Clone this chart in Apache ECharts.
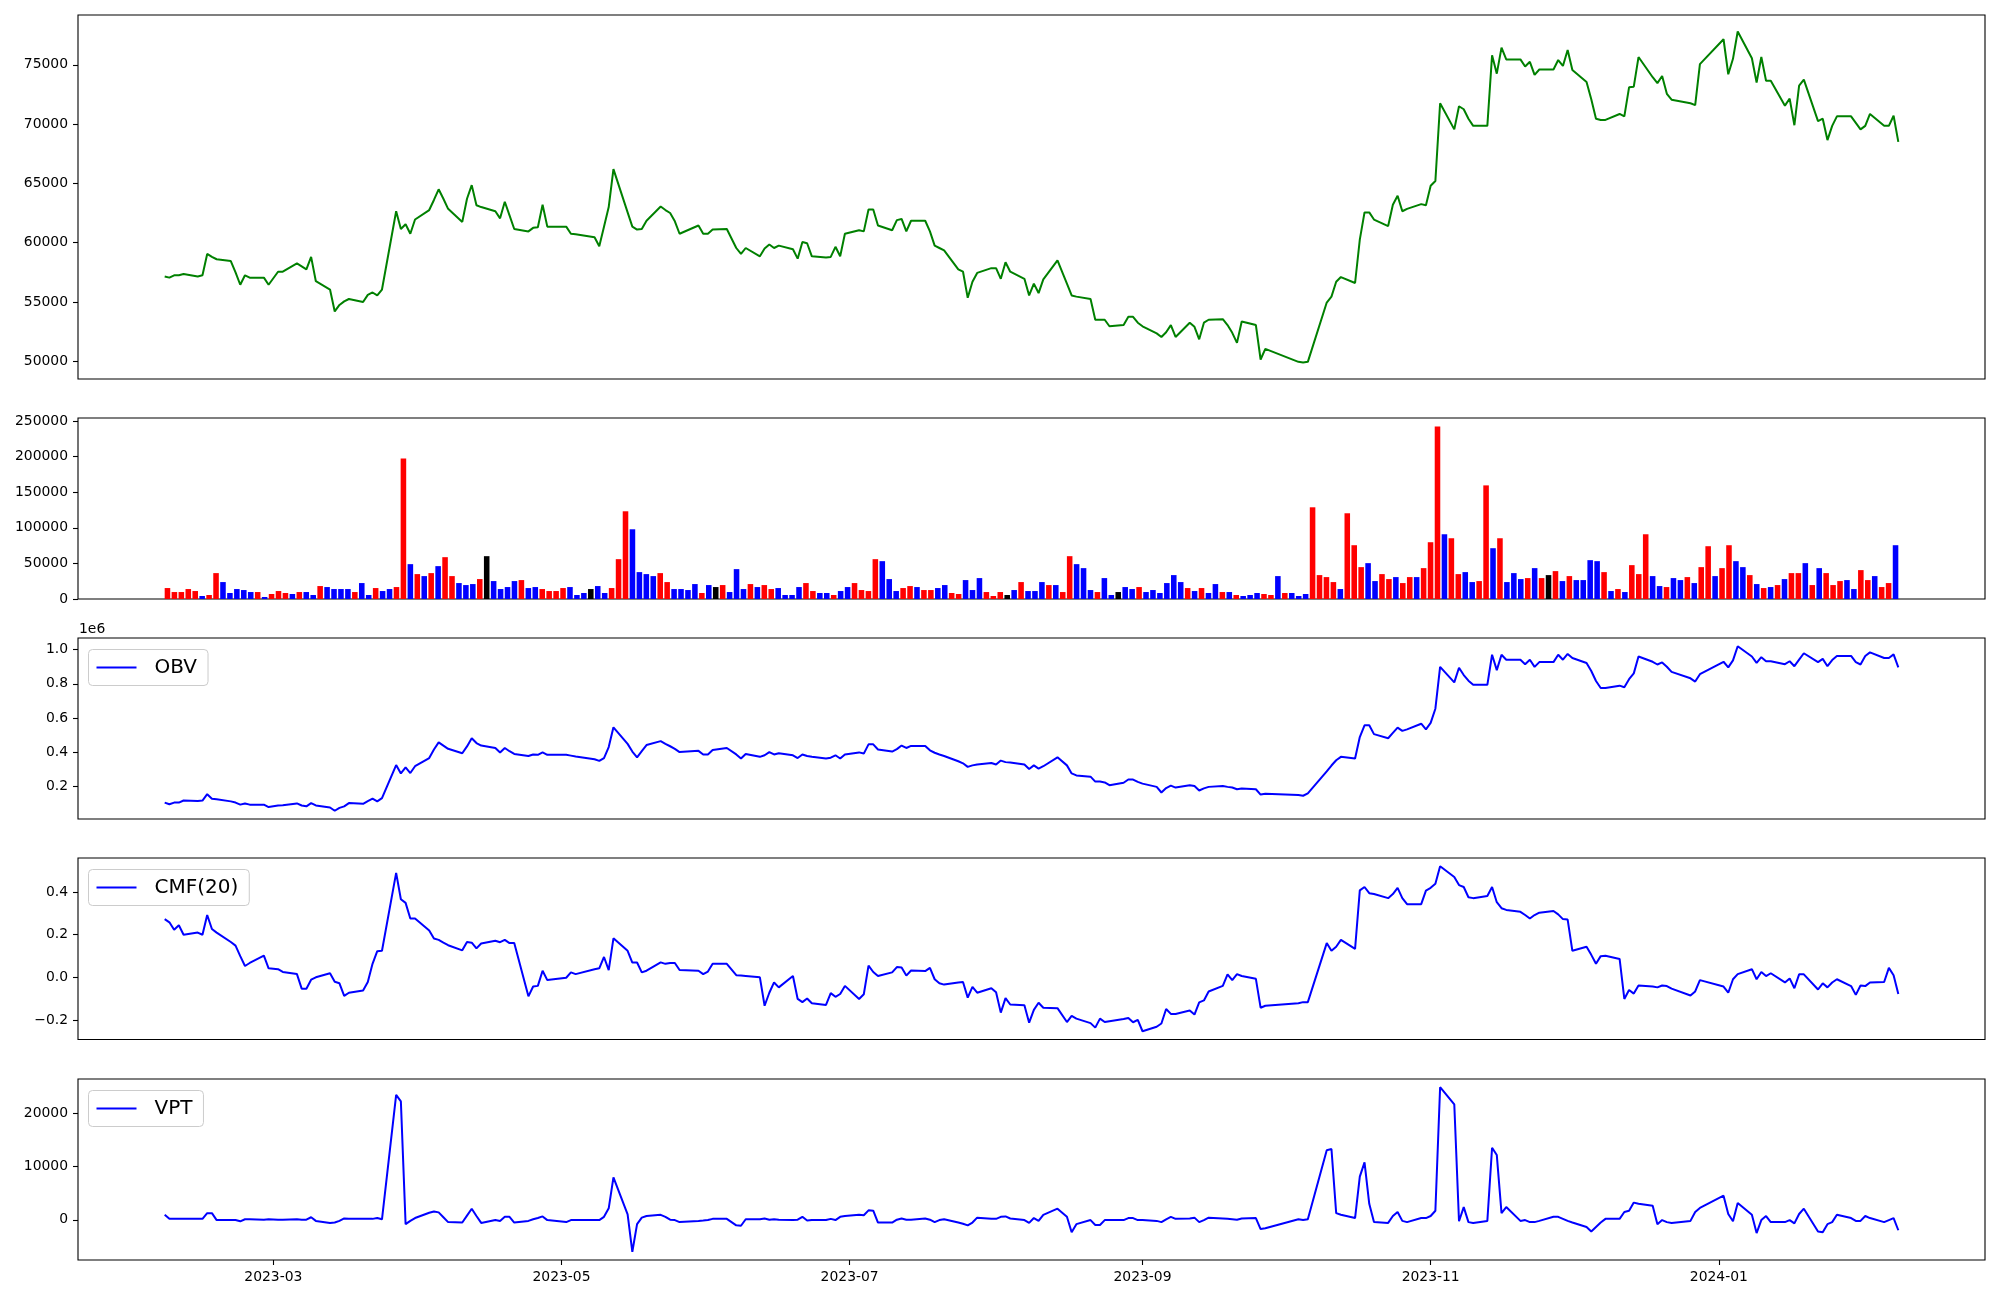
<!DOCTYPE html>
<html><head><meta charset="utf-8">
<script src="https://cdn.jsdelivr.net/npm/echarts@6.0.0/dist/echarts.min.js"></script>
<style>html,body{margin:0;padding:0;background:#fff}#chart{width:2000px;height:1300px}</style>
</head><body><div id="chart"></div>
<script>
const dates = [
'2023-02-06','2023-02-07','2023-02-08','2023-02-09','2023-02-10','2023-02-13','2023-02-14','2023-02-15','2023-02-16','2023-02-17','2023-02-20','2023-02-21','2023-02-22','2023-02-23','2023-02-24','2023-02-27','2023-02-28',
'2023-03-02','2023-03-03','2023-03-06','2023-03-07','2023-03-08','2023-03-09','2023-03-10','2023-03-13','2023-03-14','2023-03-15','2023-03-16','2023-03-17','2023-03-20','2023-03-21','2023-03-22','2023-03-23','2023-03-24','2023-03-27','2023-03-28','2023-03-29','2023-03-30','2023-03-31',
'2023-04-03','2023-04-04','2023-04-05','2023-04-06','2023-04-07','2023-04-10','2023-04-11','2023-04-12','2023-04-13','2023-04-14','2023-04-17','2023-04-18','2023-04-19','2023-04-20','2023-04-21','2023-04-24','2023-04-25','2023-04-26','2023-04-27','2023-04-28',
'2023-05-02','2023-05-03','2023-05-04','2023-05-08','2023-05-09','2023-05-10','2023-05-11','2023-05-12','2023-05-15','2023-05-16','2023-05-17','2023-05-18','2023-05-19','2023-05-22','2023-05-23','2023-05-24','2023-05-25','2023-05-26','2023-05-30','2023-05-31',
'2023-06-01','2023-06-02','2023-06-05','2023-06-07','2023-06-08','2023-06-09','2023-06-12','2023-06-13','2023-06-14','2023-06-15','2023-06-16','2023-06-19','2023-06-20','2023-06-21','2023-06-22','2023-06-23','2023-06-26','2023-06-27','2023-06-28','2023-06-29','2023-06-30',
'2023-07-03','2023-07-04','2023-07-05','2023-07-06','2023-07-07','2023-07-10','2023-07-11','2023-07-12','2023-07-13','2023-07-14','2023-07-17','2023-07-18','2023-07-19','2023-07-20','2023-07-21','2023-07-24','2023-07-25','2023-07-26','2023-07-27','2023-07-28','2023-07-31',
'2023-08-01','2023-08-02','2023-08-03','2023-08-04','2023-08-07','2023-08-08','2023-08-09','2023-08-10','2023-08-11','2023-08-14','2023-08-16','2023-08-17','2023-08-18','2023-08-21','2023-08-22','2023-08-23','2023-08-24','2023-08-25','2023-08-28','2023-08-29','2023-08-30','2023-08-31',
'2023-09-01','2023-09-04','2023-09-05','2023-09-06','2023-09-07','2023-09-08','2023-09-11','2023-09-12','2023-09-13','2023-09-14','2023-09-15','2023-09-18','2023-09-19','2023-09-20','2023-09-21','2023-09-22','2023-09-25','2023-09-26','2023-09-27',
'2023-10-04','2023-10-05','2023-10-06','2023-10-10','2023-10-11','2023-10-12','2023-10-13','2023-10-16','2023-10-17','2023-10-18','2023-10-19','2023-10-20','2023-10-23','2023-10-24','2023-10-25','2023-10-26','2023-10-27','2023-10-30','2023-10-31',
'2023-11-01','2023-11-02','2023-11-03','2023-11-06','2023-11-07','2023-11-08','2023-11-09','2023-11-10','2023-11-13','2023-11-14','2023-11-15','2023-11-16','2023-11-17','2023-11-20','2023-11-21','2023-11-22','2023-11-23','2023-11-24','2023-11-27','2023-11-28','2023-11-29','2023-11-30',
'2023-12-01','2023-12-04','2023-12-05','2023-12-06','2023-12-07','2023-12-08','2023-12-11','2023-12-12','2023-12-13','2023-12-14','2023-12-15','2023-12-18','2023-12-19','2023-12-20','2023-12-21','2023-12-22','2023-12-26','2023-12-27','2023-12-28',
'2024-01-02','2024-01-03','2024-01-04','2024-01-05','2024-01-08','2024-01-09','2024-01-10','2024-01-11','2024-01-12','2024-01-15','2024-01-16','2024-01-17','2024-01-18','2024-01-19','2024-01-22','2024-01-23','2024-01-24','2024-01-25','2024-01-26','2024-01-29','2024-01-30','2024-01-31',
'2024-02-01','2024-02-02','2024-02-05','2024-02-06','2024-02-07','2024-02-08'
];
const closePrice = [
57150,57050,57250,57250,57350,57150,57250,59050,58800,58600,58450,57500,56450,57250,57050,57050,56450,
57550,57550,58250,58000,57750,58800,56750,56050,54200,54750,55050,55250,55000,55600,55800,55550,56050,62650,61150,61550,60750,61950,
62750,63600,64500,63700,62850,61750,63700,64850,63150,63000,62650,62050,63450,62300,61150,60950,61250,61300,63200,61350,
61350,60750,60700,60450,59700,61350,63000,66200,62550,61350,61100,61150,61850,63050,62750,62500,61800,60750,61450,60750,
60750,61100,61150,59550,59050,59550,58850,59500,59850,59550,59750,59450,58650,60050,59950,58850,58750,58800,59650,58850,60750,
61050,60950,62800,62800,61450,61050,61900,62000,60950,61850,61850,60950,59750,59550,59350,57750,57550,55350,56700,57450,57850,
57850,56950,58350,57550,56950,55550,56550,55750,56900,58500,56550,55550,55450,55250,53500,53500,53500,52950,53050,53750,53750,53250,
52950,52350,52050,52450,53050,52050,53250,52900,51850,53250,53500,53550,53050,52400,51550,53350,53050,50150,51050,
49950,49900,49950,54950,55450,56700,57100,56600,60250,62550,62550,61950,61400,63200,63950,62650,62850,63250,63150,
64800,65200,71750,69550,71500,71250,70450,69850,69850,75800,74250,76450,75450,75450,74850,75250,74150,74600,74600,75400,74900,76250,
74550,73550,72100,70450,70350,70350,70850,70650,73100,73150,75650,73950,73450,74050,72550,72050,71750,71600,75050,
77150,74200,75500,77800,75550,73500,75650,73650,73650,71550,72150,69900,73250,73750,70250,70450,68650,69850,70650,70650,70100,69550,
69850,70850,69850,69850,70700,68500
];
const volume = [
15400,9800,9800,14000,11200,4200,5600,36400,23800,8400,
14000,12600,9800,9800,2800,7000,11200,8400,7000,9800,
9800,5600,18200,16800,14000,14000,14000,9800,22400,5600,
15400,11200,14000,16800,197500,49000,35000,32200,36400,46200,
58800,32200,22400,19600,21000,28000,60200,25200,14000,16800,
25200,26600,15400,16800,14000,11200,11200,15400,16800,5600,
8400,14000,18200,8400,15400,56000,123300,98000,37800,35000,
32200,36400,23800,14000,14000,12600,21000,8400,19600,16800,
19600,9800,42000,14000,21000,16800,19600,14000,15400,5600,
5600,16800,22400,11200,8400,8400,5600,11200,16800,22400,
12600,11200,56000,53200,28000,11200,15400,18200,16800,12600,
12600,15400,19600,8400,7000,26600,12600,29400,9800,4200,
9800,5600,12600,23800,11200,11200,23800,19600,19600,9800,
60200,49000,43400,12600,9800,29400,5600,9800,16800,14000,
16800,9800,12600,8400,22400,33600,23800,15400,11200,15400,
8400,21000,9800,9800,5600,4200,5600,8400,7000,5600,
32200,8400,8400,4200,7000,128900,33600,30800,23800,14000,
120500,75600,44800,50400,25200,35000,28000,30800,22400,30800,
30800,43400,79800,242300,91000,85400,35000,37800,23800,25200,
159700,71400,85400,23800,36400,28000,29400,43400,29400,33600,
39200,25200,32200,26600,26600,54600,53200,37800,11200,14000,
9800,47600,35000,91000,32200,18200,16800,29400,26600,30800,
22400,44800,74200,32200,43400,75600,53200,44800,33600,21000,
15400,16800,19600,28000,36400,36400,50400,19600,43400,36400,
19600,25200,26600,14000,40600,26600,32200,16800,22400,75600
];
// 1 = close up (red), -1 = close down (blue), 0 = unchanged (black)
const volumeDirection = [
1,1,1,1,1,-1,1,1,-1,-1, -1,-1,-1,1,-1,1,1,1,-1,1, -1,-1,1,-1,-1,-1,-1,1,-1,-1, 1,-1,-1,1,1,-1,1,-1,1,-1,
1,1,-1,-1,-1,1,0,-1,-1,-1, -1,1,-1,-1,1,1,1,1,-1,-1, -1,0,-1,-1,1,1,1,-1,-1,-1, -1,1,1,-1,-1,-1,-1,1,-1,0,
1,-1,-1,-1,1,-1,1,1,-1,-1, -1,-1,1,1,-1,-1,1,-1,-1,1, 1,1,1,-1,-1,-1,1,1,-1,1, 1,-1,-1,1,1,-1,-1,-1,1,1,
1,0,-1,1,-1,-1,-1,1,-1,1, 1,-1,-1,-1,1,-1,-1,0,-1,-1, 1,-1,-1,-1,-1,-1,-1,1,-1,1, -1,-1,1,-1,1,-1,-1,-1,1,1,
-1,1,-1,-1,-1,1,1,1,1,-1, 1,1,1,-1,-1,1,1,-1,1,1, -1,1,1,1,-1,1,1,-1,-1,1, 1,-1,1,-1,-1,-1,1,-1,1,0,
1,-1,1,-1,-1,-1,-1,1,-1,1, -1,1,1,1,-1,-1,1,-1,-1,1, -1,1,1,-1,1,1,-1,-1,1,-1, 1,-1,1,-1,1,1,-1,1,-1,1,
1,1,-1,-1,1,1,-1,1,1,-1
];
// OBV in units of 1e6
const obvE6 = [
.104,.094,.104,.104,.116,.113,.116,.153,.127,.123,.111,.104,.092,.099,.092,.092,.078,
.087,.089,.099,.087,.082,.101,.087,.075,.056,.073,.082,.101,.097,.113,.127,.111,.130,.324,.275,.310,.277,.317,
.365,.415,.457,.438,.419,.393,.433,.481,.453,.438,.424,.398,.424,.405,.389,.377,.386,.384,.398,.384,
.384,.379,.374,.358,.348,.365,.429,.545,.448,.403,.369,.405,.441,.464,.448,.434,.419,.400,.407,.386,
.386,.412,.424,.386,.362,.389,.372,.381,.400,.386,.393,.381,.365,.386,.377,.372,.362,.367,.381,.362,.386,
.398,.391,.445,.445,.415,.403,.417,.438,.424,.436,.436,.410,.396,.386,.377,.346,.334,.313,.322,.327,.336,
.327,.350,.341,.339,.327,.301,.322,.303,.317,.369,.322,.275,.263,.256,.227,.227,.222,.206,.220,.239,.239,.225,
.215,.196,.163,.189,.203,.192,.206,.201,.175,.187,.196,.201,.196,.192,.182,.187,.182,.151,.156,
.149,.144,.158,.287,.321,.352,.372,.362,.488,.557,.557,.505,.481,.512,.543,.524,.533,.566,.533,
.571,.654,.899,.808,.894,.851,.818,.794,.794,.970,.880,.970,.941,.941,.915,.941,.899,.927,.927,.970,.941,.975,
.951,.922,.875,.816,.775,.775,.789,.780,.827,.861,.960,.929,.913,.925,.900,.870,.832,.813,.856,
.929,.896,.937,1.020,.960,.922,.956,.932,.932,.915,.932,.903,.941,.979,.927,.946,.903,.939,.963,.963,.927,.913,
.963,.984,.951,.951,.972,.896
];
const cmf20 = [
.273,.258,.223,.244,.200,.210,.200,.292,.227,.210,.166,.149,.100,.054,.068,.102,.043,
.039,.026,.016,-.052,-.052,-.010,.001,.020,-.020,-.027,-.086,-.071,-.061,-.021,.064,.123,.125,.489,.366,.349,.276,.276,
.220,.182,.176,.163,.151,.127,.166,.163,.136,.159,.172,.165,.176,.161,.161,-.088,-.042,-.039,.032,-.012,
-.001,.024,.016,.039,.043,.096,.035,.183,.125,.070,.070,.024,.032,.071,.064,.068,.068,.035,.032,.016,
.028,.064,.064,.011,.009,.007,.001,-.132,-.071,-.023,-.046,.007,-.100,-.115,-.098,-.120,-.128,-.073,-.090,-.077,-.039,
-.100,-.078,.056,.026,.007,.024,.049,.047,.009,.033,.030,.045,-.008,-.027,-.033,-.023,-.021,-.094,-.044,-.071,-.050,
-.069,-.164,-.096,-.126,-.130,-.211,-.151,-.118,-.141,-.143,-.208,-.179,-.192,-.213,-.234,-.192,-.208,-.204,-.194,-.189,-.209,-.198,
-.251,-.230,-.215,-.147,-.170,-.170,-.154,-.173,-.116,-.107,-.065,-.039,.015,-.012,.016,.007,-.006,-.141,-.132,
-.120,-.115,-.115,.161,.125,.144,.176,.134,.407,.423,.394,.390,.371,.390,.419,.371,.343,.343,.406,
.419,.438,.520,.470,.432,.423,.375,.371,.381,.423,.352,.324,.316,.307,.292,.276,.292,.303,.311,.295,.273,.271,
.125,.144,.106,.064,.100,.102,.087,-.100,-.058,-.075,-.037,-.042,-.046,-.037,-.040,-.052,-.084,-.065,-.012,
-.042,-.071,-.008,.016,.039,-.008,.026,.007,.020,-.023,-.004,-.050,.015,.015,-.056,-.027,-.046,-.023,-.008,-.040,-.081,-.037,
-.040,-.023,-.021,.045,.011,-.077
];
const vpt = [
938,176,176,176,176,176,176,1243,1243,-53,-53,-53,-281,100,100,23,100,
23,23,100,23,23,480,-205,-586,-510,-205,252,176,176,176,176,328,100,23417,22198,-815,-200,328,
1319,1548,1395,480,-434,-510,786,2081,710,-586,-53,-205,557,557,-510,-205,100,328,633,-53,
-434,-53,-53,-53,-53,557,2157,7948,1014,-5996,-815,405,710,938,557,23,-53,-434,-205,-130,
-53,176,176,-1043,-1120,100,100,252,23,100,23,-53,23,557,-130,-53,-53,176,-53,557,710,
938,862,1776,1700,-510,-510,23,252,23,23,252,23,-434,-53,100,-510,-739,-1043,-510,405,176,
176,557,633,252,-53,-586,328,-205,938,2081,557,-2338,-815,-53,-967,-967,-53,-53,-53,328,328,-53,
-53,-205,-434,100,557,176,252,405,-434,-53,405,252,176,100,23,252,328,-1729,-1577,
100,-53,100,13053,13282,1243,938,328,8100,10767,2995,-434,-586,710,1471,-205,-434,328,328,
710,1700,24864,21664,-281,2386,-434,-586,-205,13511,12139,1243,2386,-205,-53,-434,-434,-205,557,557,176,-205,
-510,-1348,-2186,-1348,-510,176,176,1471,1700,3224,2995,2614,-815,-53,-434,-586,-205,1471,2233,
4519,1090,-281,3148,938,-2491,-53,710,-434,-434,-53,-662,1090,2081,-2186,-2338,-815,-434,938,328,-205,-205,
710,328,-434,-53,328,-1958
];
const xTickDates = ['2023-03-01','2023-05-01','2023-07-01','2023-09-01','2023-11-01','2024-01-01'];
const priceTicks = [50000,55000,60000,65000,70000,75000];
const volumeTicks = [0,50000,100000,150000,200000,250000];
const obvTicks = [0.2,0.4,0.6,0.8,1.0];
const cmfTicks = [-0.2,0.0,0.2,0.4];
const vptTicks = [0,10000,20000];

const ts = s => { const p = s.split('-').map(Number); return Date.UTC(p[0], p[1]-1, p[2]); };
const t = dates.map(ts);
const span = t[t.length-1] - t[0];
const XMIN = t[0] - 0.05*span, XMAX = t[t.length-1] + 0.05*span;
const N = volume.length;
const vPad = 0.05*((N-1)+0.8);
const VMIN = -0.4 - vPad, VMAX = (N-1) + 0.4 + vPad;
function lim(arr){ const mn=Math.min(...arr), mx=Math.max(...arr), r=mx-mn; return [mn-0.05*r, mx+0.05*r]; }

const LEFT = 78, RIGHT = 15, W = 2000-LEFT-RIGHT;
const panels = [[15,364],[418,181],[638,181],[858,181.5],[1079,181]];
const font = {fontFamily:'DejaVu Sans', fontSize:13.9, color:'#000'};
const grids = panels.map(([top,h]) => ({left:LEFT, right:RIGHT, top:top, height:h, show:true, borderColor:'#000', borderWidth:1.1, backgroundColor:'transparent'}));

function yAx(i, range, ticks, fmt){
  return {type:'value', gridIndex:i, min:range[0], max:range[1], position:'left',
    axisLine:{show:false, onZero:false}, splitLine:{show:false},
    axisTick:{show:true, length:5, lineStyle:{color:'#000', width:1.1}, customValues:ticks},
    axisLabel:Object.assign({show:true, margin:10, customValues:ticks, formatter:fmt}, font)};
}
const minus = v => (v < -1e-9 ? '\u2212' : '') + Math.abs(v).toFixed(1);
const volRange = [0, Math.max(...volume)*1.05];

const xTickVals = xTickDates.map(ts);
const fmtDate = v => { const d = new Date(v); return d.getUTCFullYear() + '-' + String(d.getUTCMonth()+1).padStart(2,'0'); };
const hiddenX = i => ({type:'value', gridIndex:i, min:XMIN, max:XMAX, show:false, axisLine:{onZero:false}, splitLine:{show:false}});

const xAxes = [
  hiddenX(0),
  {type:'value', gridIndex:1, min:VMIN, max:VMAX, show:false, axisLine:{onZero:false}, splitLine:{show:false}},
  hiddenX(2),
  hiddenX(3),
  {type:'value', gridIndex:4, min:XMIN, max:XMAX, position:'bottom', axisLine:{show:false, onZero:false}, splitLine:{show:false},
   axisTick:{show:true, length:5, lineStyle:{color:'#000', width:1.1}, customValues:xTickVals},
   axisLabel:Object.assign({show:true, margin:10, customValues:xTickVals, formatter:fmtDate}, font)}
];
const yAxes = [
  yAx(0, lim(closePrice), priceTicks, v => String(Math.round(v))),
  yAx(1, volRange, volumeTicks, v => String(Math.round(v))),
  yAx(2, lim(obvE6), obvTicks, v => v.toFixed(1)),
  yAx(3, lim(cmf20), cmfTicks, minus),
  yAx(4, lim(vpt), vptTicks, v => String(Math.round(v)))
];
function legendFor(name, top){
  return {show:true, data:[name], left:88.5, top:top+11.5, orient:'horizontal', selectedMode:false,
    padding:[8,11,8,8], borderColor:'#cccccc', borderWidth:1, borderRadius:4, backgroundColor:'rgba(255,255,255,0.8)',
    itemWidth:40, itemHeight:2, icon:'rect',
    textStyle:{fontFamily:'DejaVu Sans', fontSize:20, lineHeight:20, color:'#000', padding:[0,0,0,13]}};
}
const dirColor = d => d > 0 ? '#ff0000' : (d < 0 ? '#0000ff' : '#000000');
const barPx = 0.8 * W / (VMAX - VMIN);
const lineSeries = (name, xi, arr, color) => ({name:name, type:'line', xAxisIndex:xi, yAxisIndex:xi,
  data: arr.map((v,i) => [t[i], v]), showSymbol:false, symbol:'none', lineStyle:{color:color, width:2}, itemStyle:{color:color}, z:3});

const option = {
  animation:false, backgroundColor:'#ffffff',
  grid:grids, xAxis:xAxes, yAxis:yAxes,
  legend:[legendFor('OBV', 638), legendFor('CMF(20)', 858), legendFor('VPT', 1079)],
  graphic:[{type:'text', left:79, top:622, style:{text:'1e6', font:'13.9px "DejaVu Sans"', fill:'#000'}}],
  series:[
    lineSeries('Close', 0, closePrice, '#008000'),
    {name:'Volume', type:'bar', xAxisIndex:1, yAxisIndex:1, barWidth:barPx,
     data: volume.map((v,i) => ({value:[i, v], itemStyle:{color:dirColor(volumeDirection[i])}}))},
    lineSeries('OBV', 2, obvE6, '#0000ff'),
    lineSeries('CMF(20)', 3, cmf20, '#0000ff'),
    lineSeries('VPT', 4, vpt, '#0000ff')
  ]
};
const chart = echarts.init(document.getElementById('chart'), null, {renderer:'canvas'});
chart.setOption(option);
</script></body></html>
